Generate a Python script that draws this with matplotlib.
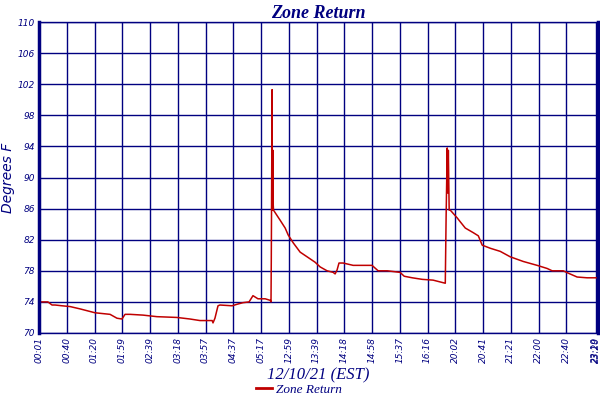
import matplotlib.pyplot as plt
import numpy as np

# x positions are in "tick slots" (one slot per labelled time), y in degrees F
pos = [0.00, 0.32, 0.47, 0.58, 0.83, 1.12, 1.48, 2.02, 2.56, 2.81, 2.99, 3.10, 3.28,
       3.75, 4.25, 4.97, 5.44, 5.80, 6.24, 6.27, 6.34, 6.45, 6.52, 6.96, 7.14, 7.35,
       7.57, 7.71, 7.89, 8.15, 8.33, 8.36, 8.37, 8.40, 8.41, 8.43, 8.44, 8.45, 8.69,
       8.87, 8.98, 9.16, 9.41, 9.66, 9.95, 10.13, 10.38, 10.60, 10.67, 10.74, 10.81,
       10.96, 11.32, 12.00, 12.22, 12.55, 13.01, 13.16, 13.45, 13.81, 14.20, 14.64,
       14.67, 14.71, 14.73, 14.75, 14.78, 14.82, 15.07, 15.18, 15.36, 15.65, 15.83,
       15.97, 16.26, 16.62, 16.98, 17.45, 17.95, 18.31, 18.49, 18.89, 19.07, 19.39,
       19.75, 20.12]
temp = [74.0, 74.0, 73.6, 73.6, 73.5, 73.4, 73.1, 72.6, 72.4, 71.9, 71.8, 72.4, 72.4,
        72.3, 72.1, 72.0, 71.8, 71.6, 71.6, 71.3, 71.9, 73.5, 73.6, 73.5, 73.7, 73.9,
        74.0, 74.8, 74.4, 74.4, 74.2, 74.0, 79.2, 101.3, 85.8, 93.5, 86.5, 85.8, 84.5,
        83.5, 82.6, 81.6, 80.4, 79.8, 79.1, 78.5, 78.0, 77.8, 77.6, 78.1, 79.0,
        79.0, 78.7, 78.7, 78.0, 78.0, 77.8, 77.3, 77.1, 76.9, 76.8, 76.4,
        85.0, 93.8, 88.0, 93.5, 85.8, 85.8, 84.8, 84.3, 83.5, 82.9, 82.5,
        81.3, 80.9, 80.5, 79.8, 79.2, 78.7, 78.3, 78.0, 78.0, 77.7, 77.2,
        77.1, 77.1]

tick_labels = ["00:01", "00:40", "01:20", "01:59", "02:39", "03:18", "03:57", "04:37",
               "05:17", "12:59", "13:39", "14:18", "14:58", "15:37", "16:16", "20:02",
               "20:41", "21:21", "22:00", "22:40", "23:19", "23:20"]
tick_pos = list(range(20)) + [20.06, 20.1]
yticks = list(range(70, 111, 4))

navy = "#000080"
red = "#c00000"

fig = plt.figure(figsize=(6, 4), dpi=100)
ax = fig.add_axes([0.065, 0.1675, 0.932, 0.7775])

ax.plot(pos, temp, color=red, lw=1.1, label="Zone Return")

ax.set_xlim(0, 20.15)
ax.set_ylim(70, 110)
ax.set_yticks(yticks)
ax.set_yticklabels([str(v) for v in yticks], fontsize=6.5, style="italic", color=navy)
ax.set_xticks(tick_pos)
ax.set_xticklabels(tick_labels, rotation=90, fontsize=6.5, style="italic", color=navy)
ax.tick_params(length=0, pad=3)

ax.grid(True, color=navy, lw=1)
ax.set_axisbelow(True)
for s in ["top", "bottom"]:
    ax.spines[s].set_color(navy)
    ax.spines[s].set_linewidth(1)
for s in ["left", "right"]:
    ax.spines[s].set_color(navy)
    ax.spines[s].set_linewidth(2.5)

ax.set_title("Zone Return", fontsize=13, style="italic", fontweight="bold",
             color=navy, family="Liberation Serif", pad=3)
ax.set_ylabel("Degrees F", fontsize=10, style="italic", color=navy)
ax.yaxis.set_label_coords(-0.043, 0.5)
ax.set_xlabel("12/10/21 (EST)", fontsize=12, style="italic", color=navy,
              family="Liberation Serif", labelpad=3)

leg = ax.legend(loc="center", bbox_to_anchor=(0.465, -0.183), frameon=False,
                prop={"family": "Liberation Serif", "style": "italic", "size": 9.5},
                handlelength=1.2, handletextpad=0.3)
for t in leg.get_texts():
    t.set_color(navy)
for h in leg.get_lines():
    h.set_linewidth(2)

fig.savefig("out.png", dpi=100)
